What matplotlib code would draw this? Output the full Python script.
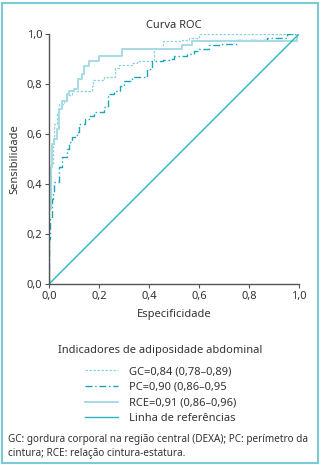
import matplotlib
matplotlib.use("Agg")
import matplotlib.pyplot as plt
from matplotlib.patches import Rectangle

plt.rcParams["font.family"] = ["Noto Sans", "DejaVu Sans"]

# ROC curve vertices (x = 1 - especificidade, y = sensibilidade)
gc_x = [0, 0, 0.008, 0.008, 0.015, 0.015, 0.02, 0.02, 0.03, 0.03, 0.04, 0.04, 0.06, 0.06,
        0.07, 0.07, 0.09, 0.09, 0.17, 0.17, 0.175, 0.175, 0.22, 0.22, 0.265, 0.265, 0.28, 0.28,
        0.33, 0.33, 0.35, 0.35, 0.42, 0.42, 0.455, 0.455, 0.53, 0.53, 0.56, 0.56, 0.60, 0.60, 1.0]
gc_y = [0, 0.32, 0.32, 0.48, 0.48, 0.56, 0.56, 0.64, 0.64, 0.68, 0.68, 0.72, 0.72, 0.73,
        0.73, 0.755, 0.755, 0.77, 0.77, 0.79, 0.79, 0.815, 0.815, 0.83, 0.83, 0.865, 0.865, 0.875,
        0.875, 0.885, 0.885, 0.89, 0.89, 0.94, 0.94, 0.97, 0.97, 0.975, 0.975, 0.985, 0.985, 1.0, 1.0]

pc_x = [0, 0, 0.005, 0.005, 0.01, 0.01, 0.015, 0.015, 0.02, 0.02, 0.04, 0.04, 0.05, 0.05,
        0.07, 0.07, 0.08, 0.08, 0.09, 0.09, 0.11, 0.11, 0.12, 0.12, 0.145, 0.145, 0.16, 0.16,
        0.18, 0.18, 0.22, 0.22, 0.235, 0.235, 0.26, 0.26, 0.285, 0.285, 0.30, 0.30, 0.33, 0.33,
        0.39, 0.39, 0.41, 0.41, 0.455, 0.455, 0.48, 0.48, 0.50, 0.50, 0.55, 0.55, 0.58, 0.58,
        0.60, 0.60, 0.64, 0.64, 0.68, 0.68, 0.75, 0.75, 0.87, 0.87, 0.95, 0.95, 1.0]
pc_y = [0, 0.18, 0.18, 0.26, 0.26, 0.34, 0.34, 0.37, 0.37, 0.41, 0.41, 0.47, 0.47, 0.51,
        0.51, 0.54, 0.54, 0.57, 0.57, 0.59, 0.59, 0.61, 0.61, 0.64, 0.64, 0.66, 0.66, 0.67,
        0.67, 0.69, 0.69, 0.71, 0.71, 0.76, 0.76, 0.77, 0.77, 0.79, 0.79, 0.81, 0.81, 0.83,
        0.83, 0.86, 0.86, 0.89, 0.89, 0.895, 0.895, 0.90, 0.90, 0.91, 0.91, 0.92, 0.92, 0.93,
        0.93, 0.94, 0.94, 0.955, 0.955, 0.96, 0.96, 0.976, 0.976, 0.985, 0.985, 1.0, 1.0]

rce_x = [0, 0, 0.008, 0.008, 0.012, 0.012, 0.02, 0.02, 0.03, 0.03, 0.04, 0.04, 0.05, 0.05,
         0.07, 0.07, 0.08, 0.08, 0.10, 0.10, 0.115, 0.115, 0.13, 0.13, 0.14, 0.14, 0.16, 0.16,
         0.20, 0.20, 0.29, 0.29, 0.53, 0.53, 0.57, 0.57, 0.99, 0.99, 1.0]
rce_y = [0, 0.30, 0.30, 0.47, 0.47, 0.56, 0.56, 0.58, 0.58, 0.62, 0.62, 0.70, 0.70, 0.73,
         0.73, 0.76, 0.76, 0.77, 0.77, 0.78, 0.78, 0.82, 0.82, 0.84, 0.84, 0.87, 0.87, 0.89,
         0.89, 0.91, 0.91, 0.94, 0.94, 0.955, 0.955, 0.97, 0.97, 1.0, 1.0]

ref_x = [0, 1]
ref_y = [0, 1]

labels = ["GC=0,84 (0,78–0,89)", "PC=0,90 (0,86–0,95", "RCE=0,91 (0,86–0,96)", "Linha de referências"]
ticks = [0.0, 0.2, 0.4, 0.6, 0.8, 1.0]
tick_labels = ["0,0", "0,2", "0,4", "0,6", "0,8", "1,0"]
footnote = ["GC: gordura corporal na região central (DEXA); PC: perímetro da",
            "cintura; RCE: relação cintura-estatura."]

txt = "#333333"
fs = 8

fig = plt.figure(figsize=(3.21, 4.65), dpi=100)
ax = fig.add_axes([49 / 321, 1 - 284 / 465, 250 / 321, 250 / 465])

ax.plot(gc_x, gc_y, color="#8fd3df", lw=0.9, ls=(0, (2, 1.2)), label=labels[0])
ax.plot(pc_x, pc_y, color="#1aa6b8", lw=1.0, ls=(0, (5, 2, 1, 2)), label=labels[1])
ax.plot(rce_x, rce_y, color="#a6dbe5", lw=1.4, label=labels[2])
ax.plot(ref_x, ref_y, color="#2ab3c4", lw=1.0, label=labels[3])

ax.set_xlim(0, 1)
ax.set_ylim(0, 1)
ax.set_xticks(ticks)
ax.set_xticklabels(tick_labels)
ax.set_yticks(ticks)
ax.set_yticklabels(tick_labels)
for s in ["top", "right"]:
    ax.spines[s].set_visible(False)
for s in ["left", "bottom"]:
    ax.spines[s].set_color("#555555")
    ax.spines[s].set_linewidth(1.0)
ax.tick_params(length=3, width=0.8, color="#555555", labelsize=fs, labelcolor=txt, pad=2)
ax.set_title("Curva ROC", fontsize=fs, color=txt, pad=4)
ax.set_xlabel("Especificidade", fontsize=fs, color=txt, labelpad=5)
ax.set_ylabel("Sensibilidade", fontsize=fs, color=txt, labelpad=4)

fig.text(0.5, 1 - 350 / 465, "Indicadores de adiposidade abdominal", fontsize=fs, color=txt,
         ha="center", va="center")
fig.legend(loc="upper center", bbox_to_anchor=(0.5, 1 - 364 / 465), frameon=False,
           fontsize=fs, handlelength=3.0, handletextpad=1.0, labelspacing=0.42,
           labelcolor=txt, borderaxespad=0, borderpad=0.2)

for i, line in enumerate(footnote):
    fig.text(8 / 321, 1 - (439 + 14 * i) / 465, line, fontsize=7.2, color=txt,
             va="center", ha="left")

fig.patches.append(Rectangle((2 / 321, 2 / 465), 316 / 321, 460 / 465, transform=fig.transFigure,
                             fill=False, edgecolor="#7ccad7", lw=1.5))

fig.savefig("out.png", dpi=100)
